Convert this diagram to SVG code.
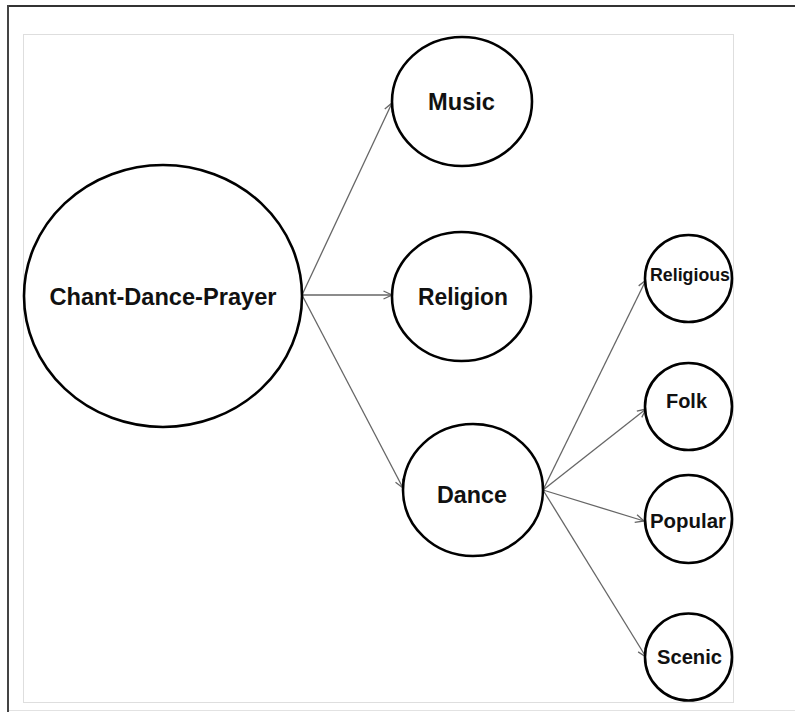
<svg xmlns="http://www.w3.org/2000/svg" width="795" height="712" viewBox="0 0 795 712">
<style>
.node ellipse{fill:#fff;stroke:#000;stroke-width:2.6}
.node text{font-family:"Liberation Sans",Arial,sans-serif;font-weight:bold;fill:#111;text-anchor:middle}
.conn line{stroke:#666;stroke-width:1.3;fill:none;marker-end:url(#arr)}
</style>
<defs>
<marker id="arr" viewBox="0 0 10 10" refX="9.5" refY="5" markerWidth="10" markerHeight="10" markerUnits="userSpaceOnUse" orient="auto">
<path d="M1,1 L9.5,5 L1,9" fill="none" stroke="#666" stroke-width="1.3"/>
</marker>
</defs>
<rect width="795" height="712" fill="#fff"/>
<g id="frame">
<line x1="8" y1="6" x2="795" y2="6" stroke="#333" stroke-width="2"/>
<line x1="8" y1="5" x2="8" y2="712" stroke="#444" stroke-width="2"/>
<line x1="9" y1="710.5" x2="795" y2="710.5" stroke="#e2e2e2" stroke-width="1"/>
<rect x="23.5" y="34.5" width="710" height="668" fill="none" stroke="#dedede" stroke-width="1"/>
</g>
<g id="connectors" class="conn">
<line x1="302" y1="295" x2="392" y2="103"/>
<line x1="302" y1="295" x2="392" y2="295"/>
<line x1="302" y1="295" x2="403" y2="488"/>
<line x1="543" y1="490" x2="646" y2="280"/>
<line x1="543" y1="490" x2="646" y2="409"/>
<line x1="543" y1="490" x2="644" y2="521"/>
<line x1="543" y1="490" x2="646" y2="657"/>
</g>
<g id="node-chant" class="node">
<ellipse cx="163" cy="296" rx="139" ry="131"/>
<text x="163" y="305" font-size="23" textLength="227" lengthAdjust="spacingAndGlyphs">Chant-Dance-Prayer</text>
</g>
<g id="node-music" class="node">
<ellipse cx="462" cy="101.5" rx="70" ry="64.5"/>
<text x="461.5" y="110" font-size="23" textLength="67" lengthAdjust="spacingAndGlyphs">Music</text>
</g>
<g id="node-religion" class="node">
<ellipse cx="461.5" cy="296.5" rx="69.5" ry="64.5"/>
<text x="463" y="305" font-size="23" textLength="90" lengthAdjust="spacingAndGlyphs">Religion</text>
</g>
<g id="node-dance" class="node">
<ellipse cx="473" cy="490" rx="70" ry="66"/>
<text x="472" y="503" font-size="23" textLength="70" lengthAdjust="spacingAndGlyphs">Dance</text>
</g>
<g id="node-religious" class="node">
<ellipse cx="688.5" cy="278.5" rx="43.5" ry="43.5"/>
<text x="690" y="281" font-size="18" textLength="80" lengthAdjust="spacingAndGlyphs">Religious</text>
</g>
<g id="node-folk" class="node">
<ellipse cx="688.5" cy="406.5" rx="43.5" ry="43.5"/>
<text x="686.5" y="408" font-size="20" textLength="41" lengthAdjust="spacingAndGlyphs">Folk</text>
</g>
<g id="node-popular" class="node">
<ellipse cx="688.5" cy="519" rx="43.5" ry="44"/>
<text x="688" y="528" font-size="20" textLength="76" lengthAdjust="spacingAndGlyphs">Popular</text>
</g>
<g id="node-scenic" class="node">
<ellipse cx="688.5" cy="657" rx="43.5" ry="43.5"/>
<text x="689.5" y="664" font-size="20" textLength="65" lengthAdjust="spacingAndGlyphs">Scenic</text>
</g>
</svg>
